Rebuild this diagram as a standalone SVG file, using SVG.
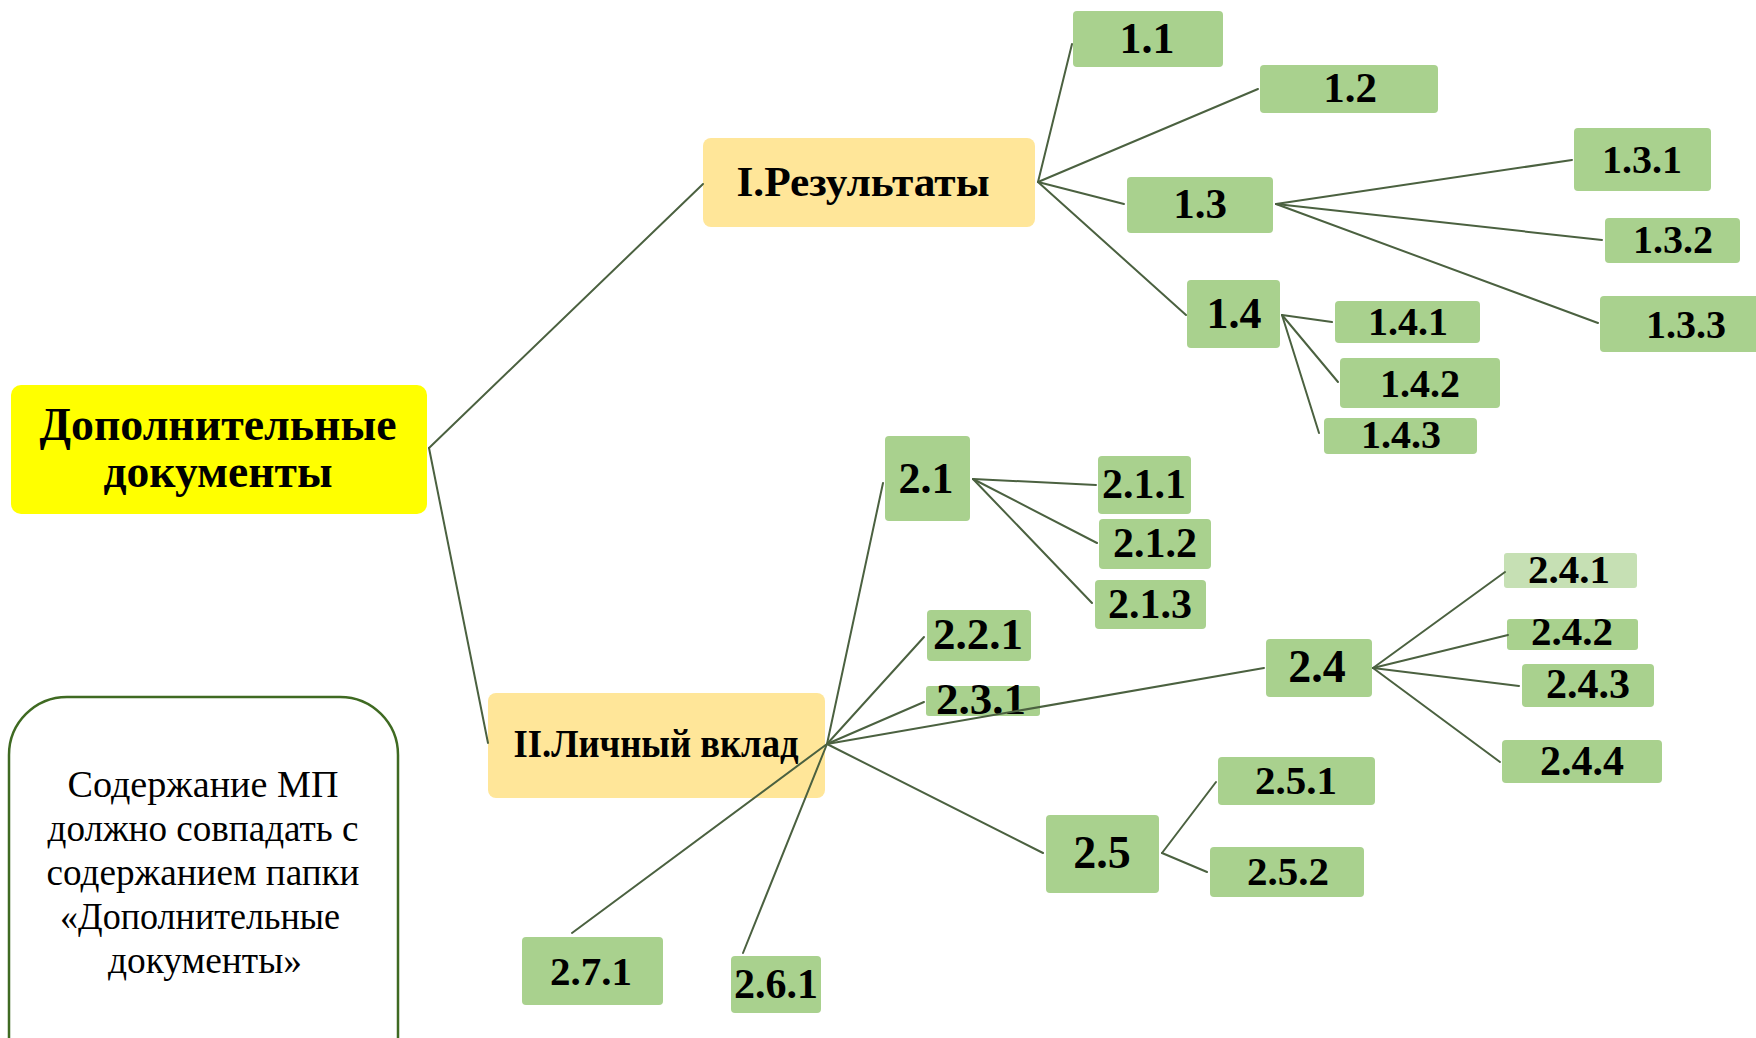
<svg xmlns="http://www.w3.org/2000/svg" width="1756" height="1038" viewBox="0 0 1756 1038" font-family="'Liberation Serif', 'Times New Roman', Times, serif">
<style>
  .bg { fill: #ffffff; }
  .g { fill: #A9D18E; }
  .gl { fill: #C6E0B4; }
  .o { fill: #FFE699; }
  .y { fill: #FFFF00; }
  .t { font-weight: bold; fill: #000; text-anchor: middle; }
  .n { fill: #000; text-anchor: middle; font-size: 38px; }
  .c line { stroke: #4B6140; stroke-width: 2; stroke-linecap: round; }
  .note { fill: #ffffff; stroke: #3F6A22; stroke-width: 2.5; }
</style>
<rect class="bg" x="0" y="0" width="1756" height="1038"/>

<g id="root">
  <rect class="y" x="11" y="385" width="416" height="129" rx="10"/>
  <text class="t" x="218" y="440" font-size="46" textLength="357" lengthAdjust="spacingAndGlyphs">Дополнительные</text>
  <text class="t" x="218" y="487" font-size="46" textLength="229" lengthAdjust="spacingAndGlyphs">документы</text>
</g>
<g id="n1">
  <rect class="o" x="703" y="138" width="332" height="89" rx="8"/>
  <text class="t" x="863" y="196" font-size="42" textLength="253" lengthAdjust="spacingAndGlyphs">I.Результаты</text>
</g>
<g id="n2">
  <rect class="o" x="488" y="693" width="337" height="105" rx="8"/>
  <text class="t" x="656" y="757" font-size="41" textLength="285" lengthAdjust="spacingAndGlyphs">II.Личный вклад</text>
</g>
<g id="note">
  <rect class="note" x="9" y="697" width="389" height="420" rx="58"/>
  <text class="n" x="203" y="797" textLength="271" lengthAdjust="spacingAndGlyphs">Содержание МП</text>
  <text class="n" x="203" y="841" textLength="311" lengthAdjust="spacingAndGlyphs">должно совпадать с</text>
  <text class="n" x="203" y="885" textLength="313" lengthAdjust="spacingAndGlyphs">содержанием папки</text>
  <text class="n" x="200" y="929" textLength="280" lengthAdjust="spacingAndGlyphs">«Дополнительные</text>
  <text class="n" x="205" y="973" textLength="194" lengthAdjust="spacingAndGlyphs">документы»</text>
</g>

<g id="n1_1"><rect class="g" x="1073" y="11" width="150" height="56" rx="4"/><text class="t" x="1147" y="53" font-size="44">1.1</text></g>
<g id="n1_2"><rect class="g" x="1260" y="65" width="178" height="48" rx="4"/><text class="t" x="1350" y="102" font-size="43">1.2</text></g>
<g id="n1_3"><rect class="g" x="1127" y="177" width="146" height="56" rx="4"/><text class="t" x="1200" y="218" font-size="43">1.3</text></g>
<g id="n1_3_1"><rect class="g" x="1574" y="128" width="137" height="63" rx="4"/><text class="t" x="1642" y="173" font-size="40">1.3.1</text></g>
<g id="n1_3_2"><rect class="g" x="1605" y="218" width="135" height="45" rx="4"/><text class="t" x="1673" y="253" font-size="40">1.3.2</text></g>
<g id="n1_3_3"><rect class="g" x="1600" y="296" width="160" height="56" rx="4"/><text class="t" x="1686" y="338" font-size="40">1.3.3</text></g>
<g id="n1_4"><rect class="g" x="1187" y="280" width="93" height="68" rx="4"/><text class="t" x="1234" y="328" font-size="44">1.4</text></g>
<g id="n1_4_1"><rect class="g" x="1335" y="301" width="145" height="42" rx="4"/><text class="t" x="1408" y="335" font-size="40">1.4.1</text></g>
<g id="n1_4_2"><rect class="g" x="1340" y="358" width="160" height="50" rx="4"/><text class="t" x="1420" y="397" font-size="40">1.4.2</text></g>
<g id="n1_4_3"><rect class="g" x="1324" y="418" width="153" height="36" rx="4"/><text class="t" x="1401" y="448" font-size="40">1.4.3</text></g>

<g id="n2_1"><rect class="g" x="885" y="436" width="85" height="85" rx="4"/><text class="t" x="926" y="493" font-size="44">2.1</text></g>
<g id="n2_1_1"><rect class="g" x="1098" y="456" width="93" height="58" rx="4"/><text class="t" x="1144" y="498" font-size="42">2.1.1</text></g>
<g id="n2_1_2"><rect class="g" x="1099" y="519" width="112" height="50" rx="4"/><text class="t" x="1155" y="557" font-size="42">2.1.2</text></g>
<g id="n2_1_3"><rect class="g" x="1095" y="580" width="111" height="49" rx="4"/><text class="t" x="1150" y="618" font-size="42">2.1.3</text></g>
<g id="n2_2_1"><rect class="g" x="927" y="610" width="104" height="51" rx="4"/><text class="t" x="978" y="649" font-size="45">2.2.1</text></g>
<g id="n2_3_1"><rect class="g" x="926" y="686" width="114" height="30" rx="3"/><text class="t" x="981" y="714" font-size="45">2.3.1</text></g>
<g id="n2_4"><rect class="g" x="1266" y="639" width="106" height="58" rx="4"/><text class="t" x="1317" y="682" font-size="46">2.4</text></g>
<g id="n2_4_1"><rect class="gl" x="1504" y="553" width="133" height="35" rx="3"/><text class="t" x="1569" y="583" font-size="41">2.4.1</text></g>
<g id="n2_4_2"><rect class="g" x="1507" y="619" width="131" height="31" rx="3"/><text class="t" x="1572" y="645" font-size="41">2.4.2</text></g>
<g id="n2_4_3"><rect class="g" x="1522" y="664" width="132" height="43" rx="4"/><text class="t" x="1588" y="698" font-size="42">2.4.3</text></g>
<g id="n2_4_4"><rect class="g" x="1502" y="740" width="160" height="43" rx="4"/><text class="t" x="1582" y="775" font-size="42">2.4.4</text></g>
<g id="n2_5"><rect class="g" x="1046" y="815" width="113" height="78" rx="4"/><text class="t" x="1102" y="868" font-size="46">2.5</text></g>
<g id="n2_5_1"><rect class="g" x="1218" y="757" width="157" height="48" rx="4"/><text class="t" x="1296" y="794" font-size="41">2.5.1</text></g>
<g id="n2_5_2"><rect class="g" x="1210" y="847" width="154" height="50" rx="4"/><text class="t" x="1288" y="885" font-size="41">2.5.2</text></g>
<g id="n2_6_1"><rect class="g" x="731" y="956" width="90" height="57" rx="4"/><text class="t" x="776" y="998" font-size="42">2.6.1</text></g>
<g id="n2_7_1"><rect class="g" x="522" y="937" width="141" height="68" rx="4"/><text class="t" x="591" y="985" font-size="41">2.7.1</text></g>

<g id="connectors" class="c">
  <line x1="429" y1="448" x2="703" y2="184"/>
  <line x1="429" y1="448" x2="488" y2="743"/>
  <line x1="1038" y1="182" x2="1072" y2="44"/>
  <line x1="1038" y1="182" x2="1258" y2="89"/>
  <line x1="1038" y1="182" x2="1124" y2="204"/>
  <line x1="1038" y1="182" x2="1186" y2="315"/>
  <line x1="1276" y1="204" x2="1572" y2="160"/>
  <line x1="1276" y1="204" x2="1602" y2="240"/>
  <line x1="1276" y1="204" x2="1598" y2="323"/>
  <line x1="1282" y1="315" x2="1332" y2="322"/>
  <line x1="1282" y1="315" x2="1338" y2="382"/>
  <line x1="1282" y1="315" x2="1319" y2="433"/>
  <line x1="827" y1="744" x2="883" y2="483"/>
  <line x1="827" y1="744" x2="924" y2="637"/>
  <line x1="827" y1="744" x2="924" y2="702"/>
  <line x1="827" y1="744" x2="1264" y2="668"/>
  <line x1="827" y1="744" x2="1043" y2="853"/>
  <line x1="827" y1="744" x2="572" y2="933"/>
  <line x1="827" y1="744" x2="743" y2="953"/>
  <line x1="973" y1="479" x2="1096" y2="485"/>
  <line x1="973" y1="479" x2="1097" y2="543"/>
  <line x1="973" y1="479" x2="1092" y2="603"/>
  <line x1="1373" y1="668" x2="1505" y2="572"/>
  <line x1="1373" y1="668" x2="1508" y2="635"/>
  <line x1="1373" y1="668" x2="1519" y2="686"/>
  <line x1="1373" y1="668" x2="1500" y2="762"/>
  <line x1="1162" y1="853" x2="1216" y2="782"/>
  <line x1="1162" y1="853" x2="1207" y2="872"/>
</g>
</svg>
